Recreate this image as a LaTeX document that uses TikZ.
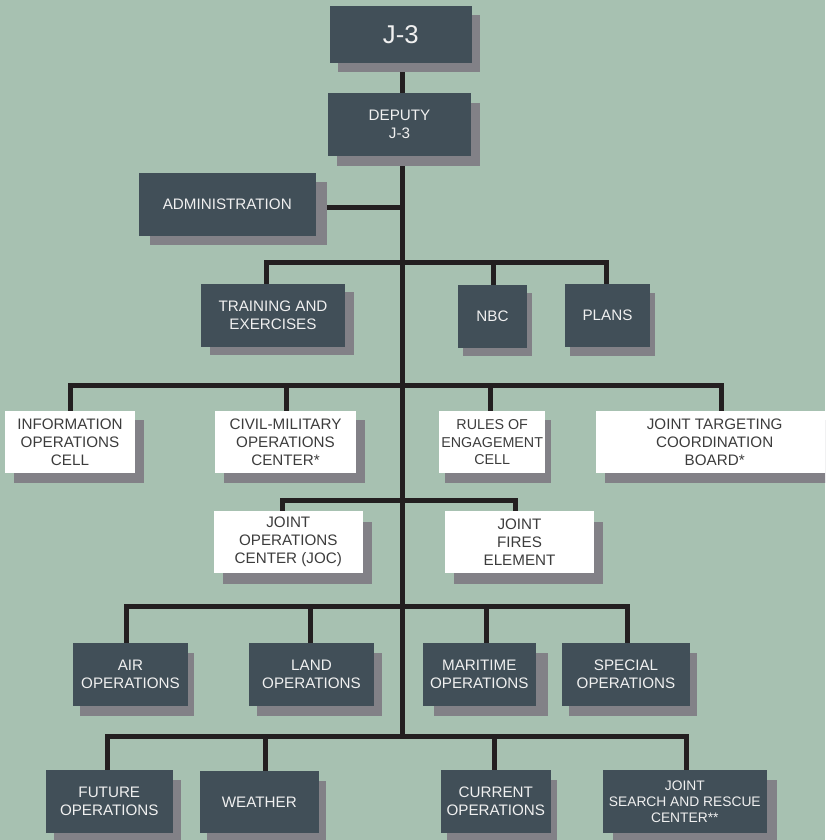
\documentclass[tikz,border=0pt]{standalone}
\usepackage{fontspec}
\setmainfont{Liberation Sans}
\usetikzlibrary{shadows}
\definecolor{bgc}{HTML}{A7C1B1}
\definecolor{boxc}{HTML}{414F58}
\definecolor{shadc}{HTML}{828187}
\definecolor{linec}{HTML}{231F20}
\definecolor{dtext}{HTML}{3C3C3C}
\definecolor{ltext}{HTML}{F0F0F0}
\pgfdeclarelayer{bg}
\pgfsetlayers{bg,main}
\newcommand\fntA{\fontsize{15.2}{18}\selectfont}
\newcommand\fntJ{\fontsize{25.7}{30}\selectfont}
\newcommand\fntR{\fontsize{14.3}{17.2}\selectfont}
\newcommand\fntS{\fontsize{13.8}{16}\selectfont}
\begin{document}
\begin{tikzpicture}[x=1pt,y=-1pt,
  box/.style={inner sep=0pt, align=center, font=\fntA},
  dbox/.style={box, fill=boxc, text=ltext},
  wbox/.style={box, fill=white, text=dtext},
  sh/.style 2 args={drop shadow={shadow xshift=#1pt,shadow yshift=-#2pt,fill=shadc,opacity=1}},
  wh/.style 2 args={minimum width=#1pt,minimum height=#2pt},
  conn/.style={draw=linec,line width=5pt,line join=miter}]
\useasboundingbox (0,0) rectangle (825,840);
\begin{pgfonlayer}{bg}
\fill[bgc] (0,0) rectangle (825,840);
\end{pgfonlayer}
\clip (0,0) rectangle (825,840);

% boxes
\node[dbox, sh={8.3}{9}, wh={141.7}{56.7}, font=\fntJ] (j3) at (400.8,34.3) {J-3};
\node[dbox, sh={9}{10}, wh={143}{63}] (dep) at (399.5,124.5) {DEPUTY\\J-3};
\node[dbox, sh={11}{9}, wh={176.7}{62.4}] (admin) at (227.3,204.5) {ADMINISTRATION};
\node[dbox, sh={9}{8}, wh={144}{62.7}] (train) at (273,315.3) {TRAINING AND\\EXERCISES};
\node[dbox, sh={5}{8}, wh={68.4}{62.7}] (nbc) at (492.5,316.3) {NBC};
\node[dbox, sh={5}{9.3}, wh={85}{62.7}] (plans) at (607.5,315.3) {PLANS};

\node[wbox, sh={9}{9.4}, wh={130}{62.3}] (info) at (70,442.2) {INFORMATION\\OPERATIONS\\CELL};
\node[wbox, sh={9}{9.4}, wh={141}{62.3}] (civil) at (285.5,442.2) {CIVIL-MILITARY\\OPERATIONS\\CENTER*};
\node[wbox, sh={6}{9.4}, wh={105.7}{62.3}, font=\fntR] (rules) at (492.2,442.2) {RULES OF\\ENGAGEMENT\\CELL};
\node[wbox, sh={9}{9.4}, wh={238}{62.3}] (jtcb) at (714.7,442.2) {JOINT TARGETING\\COORDINATION\\BOARD*};

\node[wbox, sh={9}{11}, wh={148.7}{62.3}] (joc) at (288.3,542.2) {JOINT\\OPERATIONS\\CENTER (JOC)};
\node[wbox, sh={8.7}{11}, wh={149}{62.3}] (jfe) at (519.5,542.2) {JOINT\\FIRES\\ELEMENT};

\node[dbox, sh={6.3}{10.3}, wh={114.4}{63}] (air) at (130.5,674.2) {AIR\\OPERATIONS};
\node[dbox, sh={8}{10}, wh={125}{63}] (land) at (311.5,674.2) {LAND\\OPERATIONS};
\node[dbox, sh={11.7}{10}, wh={113.3}{63}] (mar) at (479.3,674.2) {MARITIME\\OPERATIONS};
\node[dbox, sh={6.7}{10}, wh={128}{63}] (spec) at (626,674.2) {SPECIAL\\OPERATIONS};

\node[dbox, sh={8.3}{10}, wh={126.7}{62.7}] (fut) at (109.3,801.3) {FUTURE\\OPERATIONS};
\node[dbox, sh={7.3}{10}, wh={118.7}{62.3}] (wea) at (259.3,802.2) {WEATHER};
\node[dbox, sh={6}{10}, wh={109.7}{62.7}] (cur) at (495.8,801.3) {CURRENT\\OPERATIONS};
\node[dbox, sh={10}{10}, wh={163.7}{63}, font=\fntS] (jsarc) at (684.8,801.5) {JOINT\\SEARCH AND RESCUE\\CENTER**};

% bus coordinates on the trunk
\coordinate (b2) at (402.5,262.5);
\coordinate (b3) at (402.5,385.5);
\coordinate (b4) at (402.5,500.5);
\coordinate (b5) at (402.5,606.5);
\coordinate (b6) at (402.5,736.5);

\begin{pgfonlayer}{bg}
\draw[conn] (j3.south -| b6) -- (b6);
\draw[conn] ([yshift=-3.2pt]admin.center) -- ([yshift=-3.2pt]admin.center -| b6);
% row 2
\draw[conn] ([xshift=-6.7pt]train.north) |- (b2) -| ([xshift=-1.5pt]plans.north);
\draw[conn] ([xshift=1.2pt]nbc.north) -- ([xshift=1.2pt]nbc.north |- b2);
% row 3
\draw[conn] ([xshift=0.7pt]info.north) |- (b3) -| ([xshift=6.3pt]jtcb.north);
\draw[conn] ([xshift=0.5pt]civil.north) -- ([xshift=0.5pt]civil.north |- b3);
\draw[conn] ([xshift=-2.2pt]rules.north) -- ([xshift=-2.2pt]rules.north |- b3);
% row 4
\draw[conn] ([xshift=-6pt]joc.north) |- (b4) -| ([xshift=-4.5pt]jfe.north);
% row 5
\draw[conn] ([xshift=-3.8pt]air.north) |- (b5) -| ([xshift=1.3pt]spec.north);
\draw[conn] ([xshift=-1.5pt]land.north) -- ([xshift=-1.5pt]land.north |- b5);
\draw[conn] ([xshift=7.4pt]mar.north) -- ([xshift=7.4pt]mar.north |- b5);
% row 6
\draw[conn] ([xshift=-1.6pt]fut.north) |- (b6) -| ([xshift=1.9pt]jsarc.north);
\draw[conn] ([xshift=6.4pt]wea.north) -- ([xshift=6.4pt]wea.north |- b6);
\draw[conn] ([xshift=-1.8pt]cur.north) -- ([xshift=-1.8pt]cur.north |- b6);
\end{pgfonlayer}
\end{tikzpicture}
\end{document}
